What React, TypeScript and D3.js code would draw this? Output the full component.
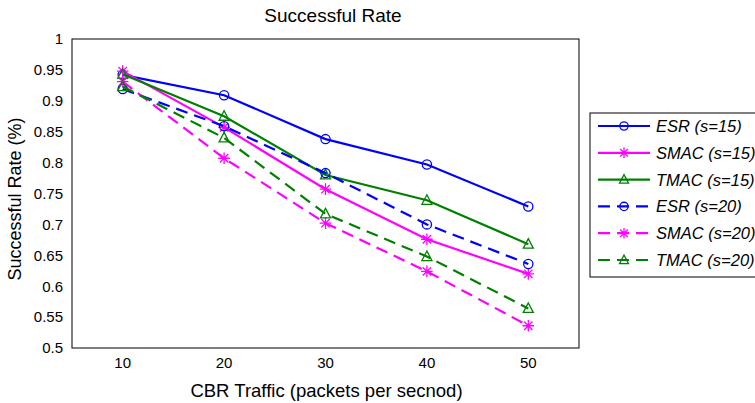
import React from "react";
import * as d3 from "d3";

const traffic = [10, 20, 30, 40, 50];
const yTicks = [0.5, 0.55, 0.6, 0.65, 0.7, 0.75, 0.8, 0.85, 0.9, 0.95, 1];

const esr15 = [0.942, 0.909, 0.838, 0.797, 0.729];
const smac15 = [0.948, 0.857, 0.757, 0.676, 0.62];
const tmac15 = [0.943, 0.875, 0.78, 0.739, 0.668];
const esr20 = [0.919, 0.859, 0.783, 0.7, 0.636];
const smac20 = [0.931, 0.807, 0.702, 0.624, 0.536];
const tmac20 = [0.923, 0.84, 0.717, 0.648, 0.564];

const series = [
  { name: "ESR (s=15)", values: esr15, color: "#0000ff", marker: "circle", dashed: false },
  { name: "SMAC (s=15)", values: smac15, color: "#ff00ff", marker: "star", dashed: false },
  { name: "TMAC (s=15)", values: tmac15, color: "#008000", marker: "triangle", dashed: false },
  { name: "ESR (s=20)", values: esr20, color: "#0000ff", marker: "circle", dashed: true },
  { name: "SMAC (s=20)", values: smac20, color: "#ff00ff", marker: "star", dashed: true },
  { name: "TMAC (s=20)", values: tmac20, color: "#008000", marker: "triangle", dashed: true },
];

const left = 72, right = 579, top = 39, bottom = 348;
const font = "'Liberation Sans', Arial, Helvetica, sans-serif";

function Marker({ type, x, y, color, k = 1 }: { type: string; x: number; y: number; color: string; k?: number }) {
  if (type === "circle") {
    return <circle cx={x} cy={y} r={4.6 * k} fill="none" stroke={color} strokeWidth={1.3} />;
  }
  if (type === "triangle") {
    return (
      <path
        d={`M${x},${y - 5.5 * k}L${x + 5 * k},${y + 4 * k}L${x - 5 * k},${y + 4 * k}Z`}
        fill="none"
        stroke={color}
        strokeWidth={1.3}
      />
    );
  }
  const s = 5.8 * k;
  const d = 4.2 * k;
  return (
    <path
      d={`M${x},${y - s}L${x},${y + s}M${x - d},${y - d}L${x + d},${y + d}M${x - d},${y + d}L${x + d},${y - d}M${x - s},${y}L${x + s},${y}`}
      stroke={color}
      strokeWidth={1.3}
    />
  );
}

export default function App() {
  const x = d3.scaleLinear().domain([5, 55]).range([left, right]);
  const y = d3.scaleLinear().domain([0.5, 1]).range([bottom, top]);

  const line = (vals: number[]) =>
    d3.line<number>()
      .x((_, i) => x(traffic[i]))
      .y((v) => y(v))(vals) || "";

  const legendX = 590, legendTop = 113, rowH = 26.8;

  return (
    <svg width={755} height={403} style={{ position: "absolute", left: 0, top: 0, background: "#fff" }}>
      <text x={333} y={22} textAnchor="middle" fontFamily={font} fontSize={19}>
        Successful Rate
      </text>
      <rect x={left} y={top} width={right - left} height={bottom - top} fill="none" stroke="#000" strokeWidth={1} />
      {yTicks.map((t) => (
        <text key={t} x={63} y={y(t) + 5.3} textAnchor="end" fontFamily={font} fontSize={15}>
          {d3.format("~g")(t)}
        </text>
      ))}
      {traffic.map((t) => (
        <text key={t} x={x(t)} y={368} textAnchor="middle" fontFamily={font} fontSize={15}>
          {t}
        </text>
      ))}
      <text x={326.5} y={397} textAnchor="middle" fontFamily={font} fontSize={18.5}>
        CBR Traffic (packets per secnod)
      </text>
      <text
        transform={`translate(21,199) rotate(-90)`}
        textAnchor="middle"
        fontFamily={font}
        fontSize={18}
      >
        Successful Rate (%)
      </text>
      {series.map((s) => (
        <g key={s.name}>
          <path
            d={line(s.values)}
            fill="none"
            stroke={s.color}
            strokeWidth={2.2}
            strokeDasharray={s.dashed ? "12,7" : undefined}
          />
          {s.values.map((v, i) => (
            <Marker key={i} type={s.marker} x={x(traffic[i])} y={y(v)} color={s.color} />
          ))}
        </g>
      ))}
      <rect x={legendX} y={legendTop} width={200} height={277 - legendTop} fill="#fff" stroke="#000" strokeWidth={1} />
      {series.map((s, i) => {
        const ry = 126 + i * rowH;
        return (
          <g key={s.name}>
            <line
              x1={598}
              x2={650}
              y1={ry}
              y2={ry}
              stroke={s.color}
              strokeWidth={2.2}
              strokeDasharray={s.dashed ? "12,7" : undefined}
            />
            <Marker type={s.marker} x={624} y={ry} color={s.color} k={0.9} />
            <text x={656} y={ry + 6} fontFamily={font} fontSize={16.5} fontStyle="italic">
              {s.name}
            </text>
          </g>
        );
      })}
    </svg>
  );
}
